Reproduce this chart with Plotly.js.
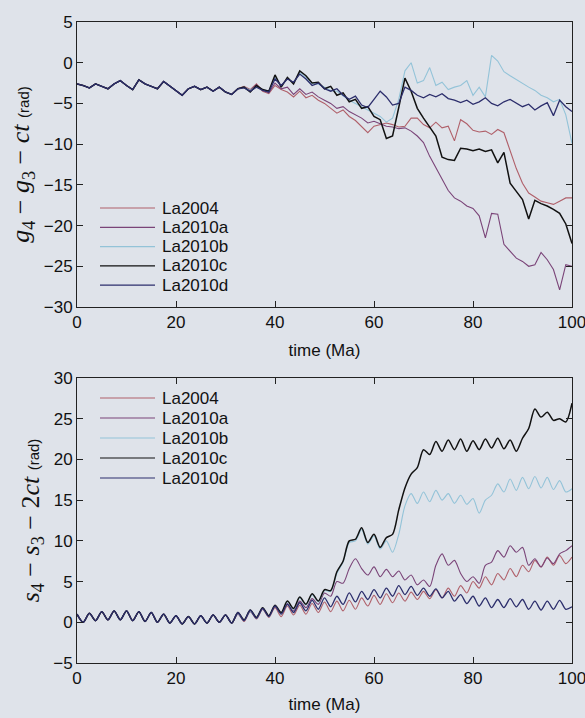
<!DOCTYPE html>
<html>
<head>
<meta charset="utf-8">
<script src="https://cdn.plot.ly/plotly-3.0.1.min.js"></script>
<style>
html,body{margin:0;padding:0;background:#dfe3ea;}
#chart{width:585px;height:718px;}
</style>
</head>
<body>
<div id="chart"></div>
<script>
// ---- data ----
const seriesNames = ['La2004', 'La2010a', 'La2010b', 'La2010c', 'La2010d'];
const seriesColors = ['#b0606a', '#7a4478', '#93c3d8', '#111111', '#2c2e6c'];

const timeMa = [0,1.25,2.5,3.75,5,6.25,7.5,8.75,10,11.25,12.5,13.75,15,16.25,17.5,18.75,20,21.25,22.5,23.75,
  25,26.25,27.5,28.75,30,31.25,32.5,33.75,35,36.25,37.5,38.75,40,41.25,42.5,43.75,45,46.25,47.5,48.75,
  50,51.25,52.5,53.75,55,56.25,57.5,58.75,60,61.25,62.5,63.75,65,66.25,67.5,68.75,70,71.25,72.5,73.75,
  75,76.25,77.5,78.75,80,81.25,82.5,83.75,85,86.25,87.5,88.75,90,91.25,92.5,93.75,95,96.25,97.5,98.75,100];

// g4 - g3 - ct : common part 0 .. 32.5 Ma
const gCommon = [-2.6,-2.8,-3.1,-2.6,-2.9,-3.2,-2.6,-2.2,-2.8,-3.3,-2.1,-2.6,-2.9,-3.2,-2.3,-2.9,-3.5,-4.0,-3.2,-2.9,
  -3.3,-3.0,-3.5,-3.0,-3.6,-3.9,-3.2];
// 33.75 .. 100 Ma
const gLa2004 = [-2.9,-3.3,-2.6,-3.5,-3.8,-2.8,-3.3,-3.6,-4.2,-3.5,
  -4.3,-4.0,-4.6,-5.0,-5.6,-6.2,-5.8,-6.6,-7.1,-7.9,
  -8.6,-7.8,-7.6,-7.4,-7.6,-7.9,-7.8,-6.8,-6.8,-7.6,
  -8.0,-7.3,-8.0,-7.8,-9.6,-7.0,-7.5,-8.3,-8.5,-8.4,
  -8.8,-8.2,-8.6,-10.8,-13.0,-14.8,-16.0,-16.5,-17.0,-17.2,
  -17.4,-17.0,-16.6,-16.6];
const gLa2010a = [-3.0,-3.4,-2.7,-3.4,-3.7,-2.5,-3.2,-3.0,-3.9,-3.2,
  -3.9,-3.6,-4.2,-4.6,-5.0,-5.6,-5.4,-6.0,-6.4,-6.8,
  -7.4,-7.2,-7.5,-7.8,-7.9,-8.1,-8.0,-8.4,-9.0,-9.8,
  -11.5,-12.9,-14.4,-15.7,-16.6,-17.0,-17.6,-17.9,-18.8,-21.5,
  -18.5,-18.6,-22.3,-23.1,-24.0,-24.4,-25.0,-24.8,-23.3,-24.2,
  -25.4,-27.9,-24.8,-25.0];
const gLa2010b = [-3.0,-3.4,-2.9,-3.3,-3.5,-1.8,-2.9,-1.9,-2.5,-1.2,
  -1.8,-2.6,-2.6,-3.0,-3.4,-3.5,-4.1,-4.6,-5.0,-5.4,
  -5.9,-6.2,-6.6,-7.3,-6.8,-4.5,-1.0,0.0,-2.5,-2.2,
  -0.6,-2.8,-2.4,-3.3,-3.0,-2.8,-2.2,-4.0,-3.0,-4.2,
  0.9,0.2,-1.1,-1.6,-2.1,-2.6,-3.0,-3.4,-4.0,-4.3,
  -4.8,-4.5,-6.4,-9.9];
const gLa2010c = [-3.0,-3.6,-2.8,-3.3,-3.5,-1.5,-3.0,-1.8,-2.6,-1.0,
  -1.6,-2.5,-2.4,-3.2,-2.9,-4.0,-3.7,-4.8,-4.5,-5.6,
  -5.4,-6.6,-7.0,-9.3,-9.0,-5.5,-1.9,-3.5,-5.6,-6.8,
  -7.9,-9.0,-11.6,-11.9,-12.0,-10.5,-10.6,-10.8,-10.6,-10.9,
  -10.7,-12.3,-11.0,-14.8,-15.8,-16.8,-19.2,-16.9,-17.3,-17.6,
  -18.0,-18.5,-19.8,-22.2];
const gLa2010d = [-3.1,-3.5,-3.0,-3.4,-3.6,-2.0,-2.8,-2.0,-2.4,-1.4,
  -2.0,-2.8,-2.5,-3.2,-3.5,-3.2,-4.0,-4.5,-4.1,-5.2,
  -5.5,-4.5,-3.5,-4.2,-5.2,-5.0,-3.0,-3.4,-4.0,-4.3,
  -3.9,-4.2,-3.8,-4.4,-4.6,-4.9,-4.6,-5.1,-4.8,-4.3,
  -5.0,-5.3,-4.8,-4.5,-5.0,-5.4,-5.1,-5.8,-5.3,-4.9,
  -6.5,-4.6,-5.4,-6.0];

// s4 - s3 - 2ct : common part 0 .. 31.25 Ma
const sCommon = [1.0,0.0,1.1,0.2,1.3,0.3,1.4,0.3,1.4,0.2,1.3,0.1,1.2,0.0,1.0,-0.1,0.8,-0.2,0.7,-0.2,
  0.8,-0.1,0.9,0.0,0.9,-0.1];
// 32.5 .. 100 Ma
const sLa2004 = [1.1,0.1,1.4,0.4,1.6,0.6,1.8,0.7,2.0,0.9,
  2.1,1.0,2.3,1.2,2.5,1.3,2.6,1.4,2.7,1.6,
  3.0,2.0,3.3,2.2,3.5,2.4,3.6,2.6,3.7,2.8,
  3.8,2.9,4.0,3.0,4.2,3.2,4.5,3.6,5.0,4.2,
  5.6,4.6,6.0,5.2,6.6,5.6,7.0,6.2,7.6,6.8,
  8.0,7.0,8.2,7.2,8.0];
const sLa2010a = [1.0,0.2,1.3,0.5,1.6,0.8,1.9,1.1,2.3,1.4,
  2.6,1.8,2.9,2.2,3.6,3.2,5.0,4.8,6.6,7.8,
  6.6,5.8,6.8,5.6,6.5,5.6,6.3,5.2,5.8,4.6,
  5.2,4.4,7.0,8.4,7.0,7.6,6.0,5.0,5.6,4.8,
  7.0,7.4,8.8,8.0,9.4,8.6,9.2,7.0,7.8,6.8,
  7.9,7.2,8.4,8.8,9.4];
const sLa2010b = [1.1,0.2,1.4,0.5,1.7,0.7,2.0,1.1,2.5,1.6,
  3.0,2.1,3.4,2.5,3.9,3.8,6.0,7.4,9.8,10.0,
  11.4,9.6,10.6,9.0,10.0,8.6,10.8,14.3,15.8,14.6,
  16.0,14.8,16.2,15.0,15.8,14.6,15.6,14.5,15.2,13.4,
  15.0,15.6,17.0,16.0,17.6,16.2,17.8,16.4,17.9,16.5,
  17.8,16.3,17.4,16.0,16.4];
const sLa2010c = [1.2,0.3,1.5,0.6,1.8,0.8,2.1,1.2,2.6,1.7,
  3.1,2.2,3.5,2.6,4.0,3.9,6.2,7.5,10.0,10.2,
  11.6,9.8,10.8,9.2,10.4,10.8,13.8,16.5,18.2,19.0,
  21.2,20.6,22.2,21.0,22.4,21.2,22.5,21.0,22.3,21.2,
  22.5,21.4,22.6,21.3,22.4,21.0,22.6,23.8,26.2,25.2,
  25.8,24.8,25.0,24.6,26.9];
const sLa2010d = [1.2,0.2,1.5,0.5,1.7,0.7,2.0,1.0,2.2,1.2,
  2.4,1.4,2.7,1.6,3.0,1.9,3.2,2.2,3.6,2.5,
  3.8,2.8,4.0,3.0,4.2,3.2,4.5,3.4,4.4,3.3,
  4.2,3.2,4.1,3.0,3.8,2.6,3.4,2.3,3.2,2.0,
  3.0,1.8,2.8,1.8,2.9,1.9,2.8,1.6,2.6,1.5,
  2.6,1.6,2.7,1.6,1.9];

const xTicks = [0, 20, 40, 60, 80, 100];
const topTitle = '<i>g</i><sub>4</sub> − <i>g</i><sub>3</sub> − <i>ct</i> <span style="font-family:Liberation Sans;font-size:15px">(rad)</span>';
const botTitle = '<i>s</i><sub>4</sub> − <i>s</i><sub>3</sub> − 2<i>ct</i> <span style="font-family:Liberation Sans;font-size:15px">(rad)</span>';

// ---- build ----
const gTails = [gLa2004, gLa2010a, gLa2010b, gLa2010c, gLa2010d];
const sTails = [sLa2004, sLa2010a, sLa2010b, sLa2010c, sLa2010d];
const widths = [1.1, 1.1, 1.1, 1.5, 1.3];
const traces = [];
seriesNames.forEach((n, i) => {
  traces.push({x: timeMa, y: gCommon.concat(gTails[i]), xaxis: 'x', yaxis: 'y', type: 'scatter', mode: 'lines',
    name: n, showlegend: false, line: {color: seriesColors[i], width: widths[i]}});
});
seriesNames.forEach((n, i) => {
  traces.push({x: timeMa, y: sCommon.concat(sTails[i]), xaxis: 'x2', yaxis: 'y2', type: 'scatter', mode: 'lines',
    name: n, showlegend: false, line: {color: seriesColors[i], width: widths[i], shape: 'spline', smoothing: 0.8}});
});

const ML = 77, MR = 13, MT = 22, MB = 55, W = 585, H = 718;
const pw = W - ML - MR, ph = H - MT - MB;
const px2x = p => (p - ML) / pw;
const py2y = p => (H - MB - p) / ph;

const tickFont = {family: 'Liberation Sans, Arial, sans-serif', size: 17, color: '#111'};
const axBase = {showline: true, linecolor: '#222', linewidth: 1, mirror: 'allticks', ticks: 'inside', ticklen: 6,
  tickcolor: '#222', showgrid: false, zeroline: false, tickfont: tickFont, ticklabeloverflow: 'allow'};

const shapes = [], annotations = [];
function legendAt(y0, dy) {
  seriesNames.forEach((n, i) => {
    const py = y0 + dy * i;
    shapes.push({type: 'line', xref: 'paper', yref: 'paper', x0: px2x(100), x1: px2x(155), y0: py2y(py), y1: py2y(py),
      line: {color: seriesColors[i], width: 1.2}});
    annotations.push({xref: 'paper', yref: 'paper', x: px2x(160), y: py2y(py), xanchor: 'left', yanchor: 'middle',
      text: n, showarrow: false, font: tickFont});
  });
}
legendAt(208, 19.3);
legendAt(398, 20);

const layout = {
  width: W, height: H,
  margin: {l: ML, r: MR, t: MT, b: MB},
  paper_bgcolor: '#dfe3ea', plot_bgcolor: '#dfe3ea',
  showlegend: false,
  xaxis: Object.assign({}, axBase, {domain: [0, 1], anchor: 'y', range: [0, 100], tickvals: xTicks, ticktext: xTicks.map(String),
    title: {text: 'time (Ma)', font: tickFont, standoff: 12}}),
  yaxis: Object.assign({}, axBase, {domain: [py2y(307), 1], anchor: 'x', range: [-30, 5], dtick: 5, tick0: 0,
    title: {text: topTitle, font: {family: 'Liberation Serif, DejaVu Serif, serif', size: 26, color: '#111'}, standoff: 6}}),
  xaxis2: Object.assign({}, axBase, {domain: [0, 1], anchor: 'y2', range: [0, 100], tickvals: xTicks, ticktext: xTicks.map(String),
    title: {text: 'time (Ma)', font: tickFont, standoff: 10}}),
  yaxis2: Object.assign({}, axBase, {domain: [0, py2y(378)], anchor: 'x2', range: [-5, 30], dtick: 5, tick0: 0,
    title: {text: botTitle, font: {family: 'Liberation Serif, DejaVu Serif, serif', size: 26, color: '#111'}, standoff: 6}}),
  shapes: shapes, annotations: annotations
};

Plotly.newPlot('chart', traces, layout, {staticPlot: true, displayModeBar: false});
</script>
</body>
</html>
